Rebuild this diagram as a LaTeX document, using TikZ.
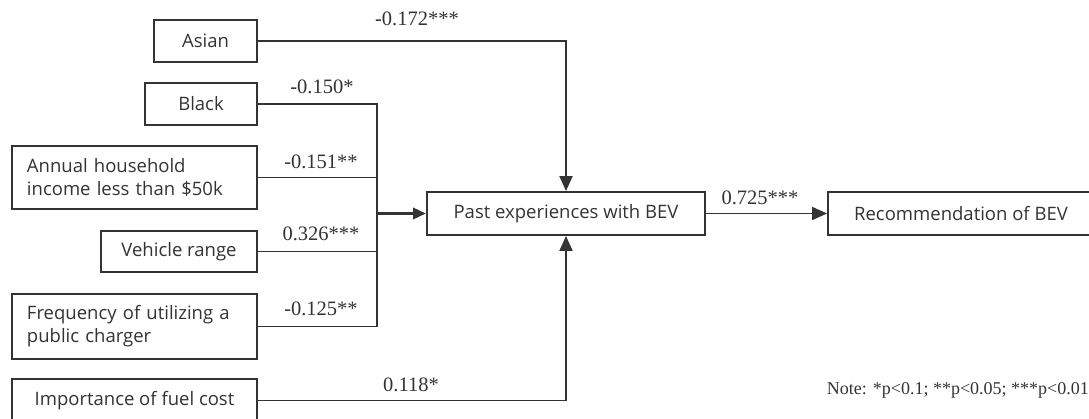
\documentclass[tikz,border=0pt]{standalone}
\usepackage{fontspec}
\setmainfont{Liberation Serif}
\newfontfamily\boxfont{Open Sans}
\usetikzlibrary{arrows.meta}

\definecolor{linegray}{HTML}{333333}
\definecolor{textgray}{HTML}{333333}

\tikzset{
  var/.style={draw=linegray, line width=1.9pt, inner sep=0pt, text=textgray,
    font=\boxfont\fontsize{18.5}{23}\selectfont},
  coef/.style={text=textgray, font=\fontsize{20.5}{22}\selectfont},
  link/.style={draw=linegray, line width=1.9pt, -{Triangle[length=15pt,width=13pt]}},
  feed/.style={draw=linegray, line width=1.9pt},
  joint/.style={draw=linegray, line width=3.2pt, -{Triangle[length=13pt,width=11pt]}}
}

\begin{document}
\begin{tikzpicture}[x=1pt,y=-1pt]
		\useasboundingbox (0,0) rectangle (1089,418);
		% predictors
		\node[var, minimum width=103pt, minimum height=42pt] (asian) at (205.5,41) {Asian};
		\node[var, minimum width=112pt, minimum height=42pt] (black) at (201,104) {Black};
		\node[var, minimum width=245pt, minimum height=63pt, text width=215pt, align=left] (income) at (134.5,177.5) {Annual household\\income less than \$50k};
		\node[var, minimum width=156pt, minimum height=41pt] (range) at (179,251.5) {Vehicle range};
		\node[var, minimum width=245pt, minimum height=65pt, text width=215pt, align=left] (charger) at (134.5,326.5) {Frequency of utilizing a\\public charger};
		\node[var, minimum width=245pt, minimum height=43pt] (fuel) at (134.5,400.5) {Importance of fuel cost};
		% mediator and outcome
		\node[var, minimum width=278pt, minimum height=43pt] (past) at (566,213.5) {Past experiences with BEV};
		\node[var, minimum width=266pt, minimum height=43pt] (recom) at (961,213.5) {Recommendation of BEV};
		% junction of the grouped paths
		\coordinate (jtop) at (377,104);
		\coordinate (jbot) at (377,326.5);
		\coordinate (jmid) at (377,213.5);
		\draw[feed] (black.east) -- (jtop) -- (jbot) -- (charger.east);
		\draw[feed] (income.east) -- (income.east -| jtop);
		\draw[feed] (range.east) -- (range.east -| jtop);
		\draw[joint] (jmid) -- (past.west);
		\draw[link] (asian.east) -| (past.north);
		\draw[link] (fuel.east) -| (past.south);
		\draw[link] (past.east) -- (recom.west);
		% coefficients
		\node[coef] (casian) at (417,19) {-0.172***};
		\node[coef] (cblack) at (322,87) {-0.150*};
		\node[coef] (cincome) at (321,162) {-0.151**};
		\node[coef] (crange) at (321,234) {0.326***};
		\node[coef] (ccharger) at (321,309) {-0.125**};
		\node[coef] (cfuel) at (411,385) {0.118*};
		\node[coef] (cpast) at (760,198) {0.725***};
		\node[coef, font=\fontsize{18}{20}\selectfont, anchor=east, inner xsep=0pt] (note) at (1089,390) {Note: *p<0.1; **p<0.05; ***p<0.01};
\end{tikzpicture}
\end{document}
